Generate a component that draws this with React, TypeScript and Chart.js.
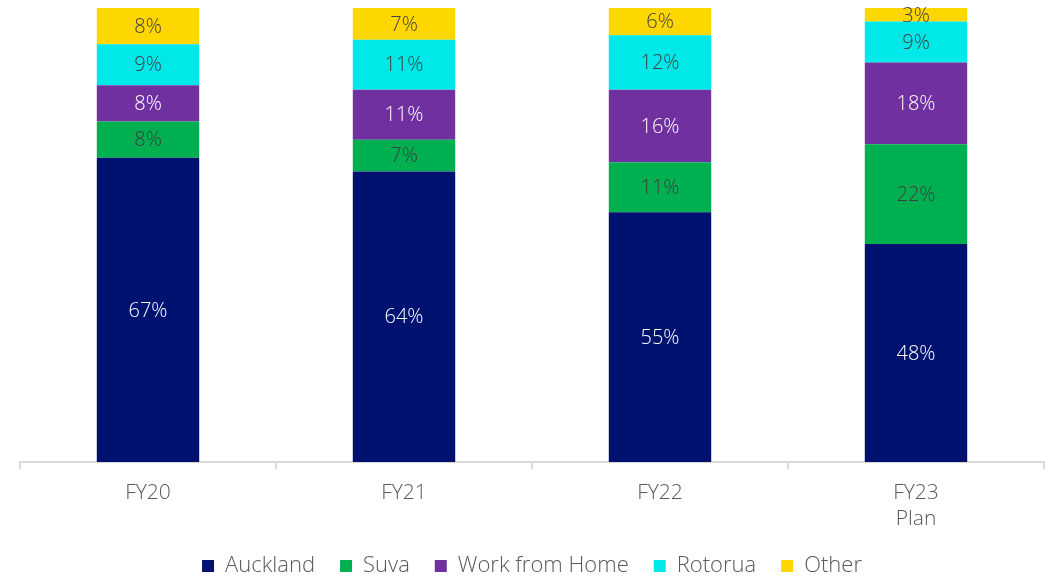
import React, { useEffect, useRef } from "react";
import { Chart, registerables } from "chart.js";

Chart.register(...registerables);

const categories: (string | string[])[] = ["FY20", "FY21", "FY22", ["FY23", "Plan"]];
const auckland = [67, 64, 55, 48];
const suva = [8, 7, 11, 22];
const workFromHome = [8, 11, 16, 18];
const rotorua = [9, 11, 12, 9];
const other = [8, 7, 6, 3];

const seriesNames = ["Auckland", "Suva", "Work from Home", "Rotorua", "Other"];
const seriesColors = ["#001270", "#00B050", "#7030A0", "#00E8E8", "#FFD700"];
const labelColors = ["#FFFFFF", "#3F3F3F", "#FFFFFF", "#3F3F3F", "#3F3F3F"];

const FONT = "'Open Sans', Lato, sans-serif";

const segmentLabels = {
  id: "segmentLabels",
  afterDatasetsDraw(chart: any) {
    const ctx = chart.ctx;
    ctx.save();
    ctx.font = `300 20px ${FONT}`;
    ctx.textAlign = "center";
    ctx.textBaseline = "middle";
    chart.data.datasets.forEach((ds: any, di: number) => {
      const meta = chart.getDatasetMeta(di);
      meta.data.forEach((bar: any, i: number) => {
        const v = ds.data[i];
        const { x, y, base } = bar.getProps(["x", "y", "base"], true);
        ctx.fillStyle = labelColors[di];
        ctx.fillText(`${v}%`, x, (y + base) / 2 + 1);
      });
    });
    ctx.restore();
  },
};

export default function App() {
  const ref = useRef<HTMLCanvasElement | null>(null);
  useEffect(() => {
    if (!ref.current) return;
    const values = [auckland, suva, workFromHome, rotorua, other];
    const chart = new Chart(ref.current, {
      type: "bar",
      data: {
        labels: categories,
        datasets: values.map((d, i) => ({
          label: seriesNames[i],
          data: d,
          backgroundColor: seriesColors[i],
          borderWidth: 0,
          categoryPercentage: 1,
          barPercentage: 0.4,
        })),
      },
      options: {
        animation: false,
        responsive: false,
        maintainAspectRatio: false,
        layout: { padding: { left: 20, right: 2, top: 8, bottom: -11 } },
        scales: {
          x: {
            stacked: true,
            afterFit: (scale: any) => {
              scale.height -= 13;
            },
            grid: {
              display: true,
              drawOnChartArea: false,
              drawTicks: true,
              tickLength: 7,
              color: "#D9D9D9",
              lineWidth: 2,
            },
            border: { display: true, color: "#D9D9D9", width: 2 },
            ticks: {
              color: "#595959",
              font: { family: FONT, size: 21, weight: 300 as any, lineHeight: 1.24 },
              padding: 11,
            },
          },
          y: {
            stacked: true,
            display: false,
            min: 0,
            max: 100,
          },
        },
        plugins: {
          legend: {
            position: "bottom",
            labels: {
              color: "#595959",
              font: { family: FONT, size: 22, weight: 300 as any },
              boxWidth: 12,
              boxHeight: 12,
              padding: 25,
            },
          },
          tooltip: { enabled: false },
        },
      },
      plugins: [segmentLabels],
    });
    return () => chart.destroy();
  }, []);
  return (
    <div style={{ position: "fixed", left: 0, top: 0, width: 1046, height: 576, background: "#fff" }}>
      <canvas ref={ref} width={1046} height={576} />
    </div>
  );
}
